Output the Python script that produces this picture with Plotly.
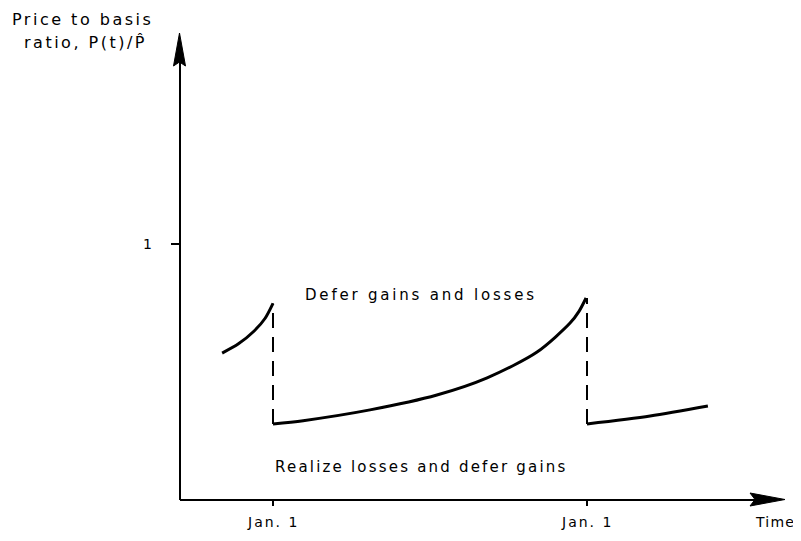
import plotly.graph_objects as go

# ---- data (time in years, Jan. 1 at t=1 and t=2; y = price to basis ratio) ----
seg1_t = [0.838, 0.890, 0.940, 0.975, 1.000]
seg1_y = [0.574, 0.610, 0.660, 0.710, 0.768]

seg2_t = [1.000, 1.096, 1.309, 1.522, 1.682, 1.841, 1.946, 1.975, 1.997]
seg2_y = [0.297, 0.310, 0.352, 0.410, 0.477, 0.578, 0.691, 0.738, 0.789]

seg3_t = [2.000, 2.201, 2.385]
seg3_y = [0.297, 0.328, 0.367]

jump_t = [1.0, 2.0]
jump_low = [0.297, 0.297]
jump_high = [0.768, 0.789]

tick_t = [1.0, 2.0]
tick_labels = ["Jan. 1", "Jan. 1"]
ytick_val = [1.0]
ytick_labels = ["1"]

# ---- geometry helpers (screen pixel -> data); page body has an 8px margin ----
OFF = 8
W, H = 801 - OFF, 541 - OFF
def tx(px):
    return 1 + (px - 273) / 314.0
def ry(py):
    return (500 - py) / 256.0

x0 = tx(180)
FONT = "DejaVu Sans"

fig = go.Figure()
for xs, ys in [(seg1_t, seg1_y), (seg2_t, seg2_y), (seg3_t, seg3_y)]:
    fig.add_trace(go.Scatter(x=xs, y=ys, mode="lines",
                             line=dict(color="black", width=3, shape="spline", smoothing=0.8),
                             showlegend=False, hoverinfo="skip"))
for t, lo, hi in zip(jump_t, jump_low, jump_high):
    fig.add_trace(go.Scatter(x=[t, t], y=[lo, hi], mode="lines",
                             line=dict(color="black", width=2, dash="15px,9px"),
                             showlegend=False, hoverinfo="skip"))

shapes = []
LW = 2
# axis lines
shapes.append(dict(type="line", xref="x", yref="y", x0=x0, x1=x0, y0=0, y1=ry(60),
                   line=dict(color="black", width=LW)))
shapes.append(dict(type="line", xref="x", yref="y", x0=x0, x1=tx(760), y0=0, y1=0,
                   line=dict(color="black", width=LW)))
# arrow heads
def P(px, py):
    return f"{tx(px)},{ry(py)}"
shapes.append(dict(type="path", xref="x", yref="y",
                   path=f"M{P(179.5, 33)} L{P(185.5, 66)} L{P(179.5, 62)} L{P(173.5, 66)} Z",
                   fillcolor="black", line=dict(color="black", width=1)))
shapes.append(dict(type="path", xref="x", yref="y",
                   path=f"M{P(785, 499.5)} L{P(750, 493)} L{P(755, 499.5)} L{P(750, 506)} Z",
                   fillcolor="black", line=dict(color="black", width=1)))
# x ticks
for t in tick_t:
    shapes.append(dict(type="line", xref="x", yref="y", x0=t, x1=t, y0=0, y1=ry(506),
                       line=dict(color="black", width=2)))
# y tick
for v in ytick_val:
    shapes.append(dict(type="line", xref="x", yref="y", x0=tx(171), x1=x0, y0=v, y1=v,
                       line=dict(color="black", width=2)))

annotations = []
def txt(s, px, py, size=15, sp=2.0, anchor="center"):
    annotations.append(dict(x=tx(px), y=ry(py), xref="x", yref="y",
                            text=f'<span style="letter-spacing:{sp}px">{s}</span>',
                            showarrow=False, xanchor=anchor, yanchor="middle",
                            font=dict(family=FONT, size=size, color="black")))

for t, lab in zip(tick_t, tick_labels):
    annotations.append(dict(x=t, y=ry(522), xref="x", yref="y",
                            text=f'<span style="letter-spacing:2px">{lab}</span>',
                            showarrow=False, xanchor="center", yanchor="middle",
                            font=dict(family=FONT, size=14, color="black")))
for v, lab in zip(ytick_val, ytick_labels):
    annotations.append(dict(x=tx(147), y=v, xref="x", yref="y", text=lab, showarrow=False,
                            xanchor="center", yanchor="middle",
                            font=dict(family=FONT, size=14, color="black")))

txt("Time", 797, 522, 14, 1.2, anchor="right")
txt("Price to basis", 82, 19, 16, 2.5)
txt("ratio, P(t)/P\u0302", 85, 42, 16, 2.5)
txt("Defer gains and losses", 421, 295, 15, 2.8)
txt("Realize losses and defer gains", 421, 467, 15, 2.2)

fig.update_layout(
    width=W, height=H, margin=dict(l=0, r=0, t=0, b=0),
    paper_bgcolor="white", plot_bgcolor="white",
    xaxis=dict(range=[tx(OFF), tx(801)], visible=False, fixedrange=True),
    yaxis=dict(range=[ry(541), ry(OFF)], visible=False, fixedrange=True),
    shapes=shapes, annotations=annotations,
)
fig.write_html("out.html")
